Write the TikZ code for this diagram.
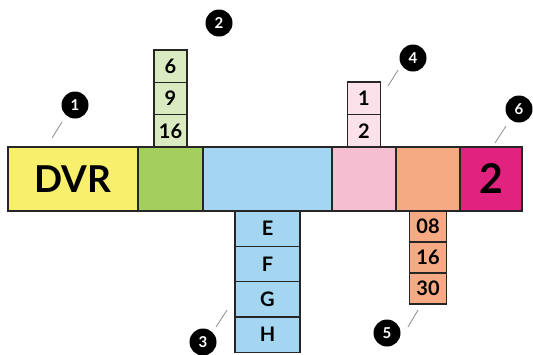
\documentclass[tikz,border=0pt]{standalone}
\usepackage{fontspec}
\setmainfont{Lato}
\usetikzlibrary{positioning}
\definecolor{dvryellow}{HTML}{F8F06C}
\definecolor{bargreen}{HTML}{A3CF5F}
\definecolor{barblue}{HTML}{A4D6F1}
\definecolor{barpink}{HTML}{F5BFD1}
\definecolor{barorange}{HTML}{F5AA84}
\definecolor{barmagenta}{HTML}{E1227E}
\definecolor{lightgreen}{HTML}{DBEBC1}
\definecolor{lightpink}{HTML}{FBE1E9}

\begin{document}
\begin{tikzpicture}[x=1pt, y=-1pt,
    seg/.style={draw=black!85, line width=1.3pt, minimum height=64pt, inner sep=0pt, outer sep=0pt, font=\bfseries},
    cell/.style={draw=black!85, line width=1.3pt, inner sep=0pt, outer sep=0pt, font=\bfseries\fontsize{20}{20}\selectfont},
    badge/.style={circle, fill=black, text=white, minimum size=27pt, inner sep=0pt, font=\bfseries\fontsize{15}{15}\selectfont},
    leader/.style={draw=black!45, line width=0.8pt}]
    \useasboundingbox (0,0) rectangle (533,354);

    % Main bar
    \node[seg, fill=dvryellow, anchor=north west, minimum width=130pt, font=\bfseries\fontsize{37}{37}\selectfont] (dvr) at (8,147) {DVR};
    \node[seg, fill=bargreen, minimum width=65pt, right=0pt of dvr] (grn) {};
    \node[seg, fill=barblue, minimum width=129pt, right=0pt of grn] (blu) {};
    \node[seg, fill=barpink, minimum width=64pt, right=0pt of blu] (pnk) {};
    \node[seg, fill=barorange, minimum width=64pt, right=0pt of pnk] (org) {};
    \node[seg, fill=barmagenta, minimum width=62pt, right=0pt of org, font=\bfseries\fontsize{41}{41}\selectfont] (mag) {2};

    % Stacks above
    \node[cell, fill=lightgreen, minimum width=33pt, minimum height=32.3pt, above=0pt of grn] (g16) {16};
    \node[cell, fill=lightgreen, minimum width=33pt, minimum height=32.3pt, above=0pt of g16] (g9) {9};
    \node[cell, fill=lightgreen, minimum width=33pt, minimum height=32.3pt, above=0pt of g9] (g6) {6};
    \node[cell, fill=lightpink, minimum width=33pt, minimum height=32.5pt, above=0pt of pnk] (p2) {2};
    \node[cell, fill=lightpink, minimum width=33pt, minimum height=32.5pt, above=0pt of p2] (p1) {1};

    % Stacks below
    \node[cell, fill=barblue, minimum width=65pt, minimum height=35.3pt, below=0pt of blu] (bE) {E};
    \node[cell, fill=barblue, minimum width=65pt, minimum height=35.3pt, below=0pt of bE] (bF) {F};
    \node[cell, fill=barblue, minimum width=65pt, minimum height=35.3pt, below=0pt of bF] (bG) {G};
    \node[cell, fill=barblue, minimum width=65pt, minimum height=35.3pt, below=0pt of bG] (bH) {H};
    \node[cell, fill=barorange, minimum width=37pt, minimum height=31pt, below=0pt of org] (o08) {08};
    \node[cell, fill=barorange, minimum width=37pt, minimum height=31pt, below=0pt of o08] (o16) {16};
    \node[cell, fill=barorange, minimum width=37pt, minimum height=31pt, below=0pt of o16] (o30) {30};

    % Callouts
    \node[badge] (n1) at (75,105) {1};
    \node[badge] (n2) at (219,23) {2};
    \node[badge] (n3) at (203,342) {3};
    \node[badge] (n4) at (413,58) {4};
    \node[badge] (n5) at (387,333) {5};
    \node[badge] (n6) at (519,109) {6};
    \coordinate (a1) at (52,138); \coordinate (b1) at (62,122);
    \coordinate (a3) at (216,327); \coordinate (b3) at (227,310);
    \coordinate (a4) at (388,86); \coordinate (b4) at (398,70);
    \coordinate (a5) at (408,327); \coordinate (b5) at (418,310);
    \coordinate (a6) at (495,143); \coordinate (b6) at (506,126);
    \foreach \i in {1,3,4,5,6}
        \draw[leader] (a\i) -- (b\i);
\end{tikzpicture}
\end{document}
